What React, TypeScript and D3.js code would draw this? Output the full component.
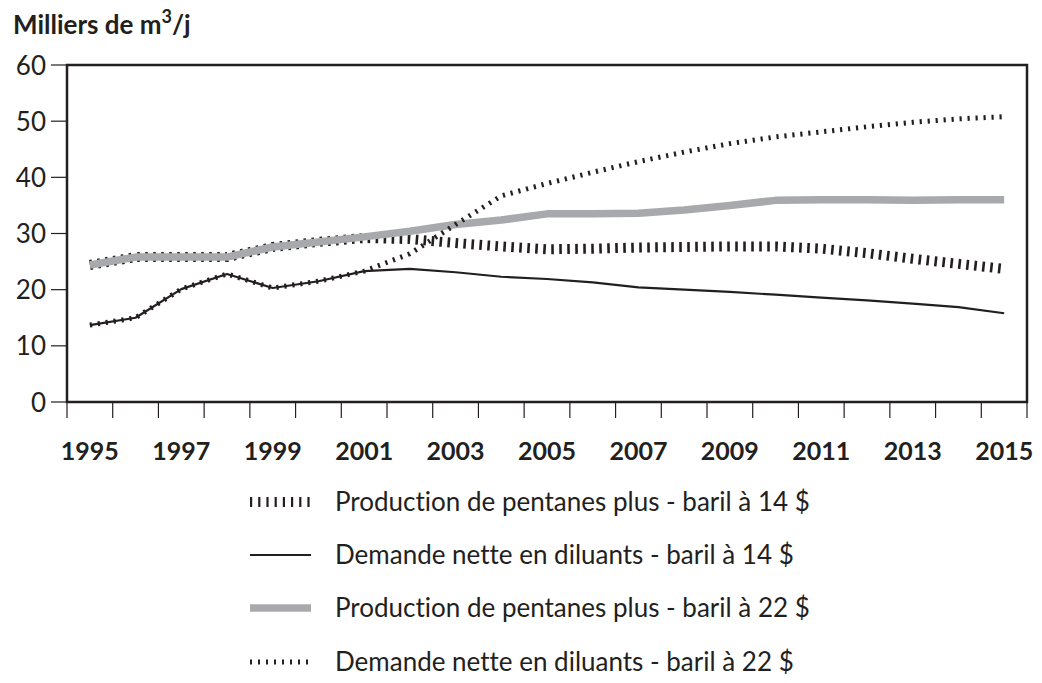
import React from "react";
import * as d3 from "d3";

const years = [1995, 1996, 1997, 1998, 1999, 2000, 2001, 2002, 2003, 2004, 2005, 2006, 2007, 2008, 2009, 2010, 2011, 2012, 2013, 2014, 2015];
const yearLabels = [1995, 1997, 1999, 2001, 2003, 2005, 2007, 2009, 2011, 2013, 2015];
const yTicks = [0, 10, 20, 30, 40, 50, 60];

const prod14 = [24.4, 25.8, 25.8, 25.8, 27.6, 28.5, 29.2, 29.0, 28.3, 27.7, 27.2, 27.3, 27.5, 27.6, 27.7, 27.7, 27.3, 26.5, 25.5, 24.6, 23.7];
const dem14 = [13.7, 15.0, 20.1, 22.8, 20.3, 21.5, 23.3, 23.7, 23.1, 22.3, 21.9, 21.3, 20.4, 20.0, 19.6, 19.1, 18.6, 18.1, 17.5, 16.9, 15.8];
const prod22 = [24.4, 25.8, 25.8, 25.8, 27.6, 28.5, 29.4, 30.4, 31.6, 32.4, 33.5, 33.5, 33.6, 34.2, 35.0, 35.9, 36.0, 36.0, 35.9, 36.0, 36.0];
const dem22 = [13.7, 15.0, 20.1, 22.8, 20.3, 21.5, 23.3, 26.4, 31.6, 36.7, 38.9, 40.9, 42.8, 44.5, 46.0, 47.2, 48.1, 49.0, 49.8, 50.4, 50.8];

const legendLabels = [
  "Production de pentanes plus - baril à 14 $",
  "Demande nette en diluants - baril à 14 $",
  "Production de pentanes plus - baril à 22 $",
  "Demande nette en diluants - baril à 22 $",
];

const INK = "#231f20";
const GREY = "#a7a9ac";
const FONT = "Lato, 'Open Sans', sans-serif";

type Style = { stroke: string; width: number; dash?: string };
const styles: Style[] = [
  { stroke: INK, width: 10, dash: "2.6 5.4" },
  { stroke: INK, width: 2.2 },
  { stroke: GREY, width: 7.5 },
  { stroke: INK, width: 5, dash: "2.2 5.8" },
];
const legendStyles: Style[] = [
  { stroke: INK, width: 10, dash: "2.2 6" },
  { stroke: INK, width: 2.2 },
  { stroke: GREY, width: 7.5 },
  { stroke: INK, width: 5, dash: "2 6" },
];

export default function App() {
  const W = 1042, H = 683;
  const left = 67, right = 1027, top = 65, bottom = 402;
  const x = d3.scaleBand<number>().domain(years).range([left, right]).padding(0);
  const cx = (yr: number) => (x(yr) as number) + x.bandwidth() / 2;
  const y = d3.scaleLinear().domain([0, 60]).range([bottom, top]);
  const line = d3.line<number>().x((_, i) => cx(years[i])).y((v) => y(v));
  const series = [prod14, dem14, prod22, dem22];
  const drawOrder = [0, 2, 1, 3];
  const boundaries = [...years.map((yr) => x(yr) as number), right];
  const legendY = [502, 555, 608, 662];
  const textStyle = { fontVariantLigatures: "none" as const };

  return (
    <svg width={W} height={H} style={{ position: "absolute", left: 0, top: 0, background: "#fff" }}>
      <rect x={0} y={0} width={W} height={H} fill="#fff" />
      <text x={13} y={34} fontFamily={FONT} fontWeight={700} fontSize={26} fill={INK} style={textStyle}>
        Milliers de m
        <tspan fontSize={18} dy={-11}>3</tspan>
        <tspan dy={11}>/j</tspan>
      </text>

      {/* y ticks */}
      {yTicks.map((t) => (
        <g key={t}>
          <line x1={51} x2={left} y1={y(t)} y2={y(t)} stroke={INK} strokeWidth={1.2} />
          <text x={46} y={y(t) + 9.5} textAnchor="end" fontFamily={FONT} fontSize={26} fill={INK}>
            {t}
          </text>
        </g>
      ))}

      {/* x ticks */}
      {boundaries.map((b, i) => (
        <line key={i} x1={b} x2={b} y1={bottom} y2={418} stroke={INK} strokeWidth={1.2} />
      ))}
      {yearLabels.map((yr) => (
        <text key={yr} x={cx(yr)} y={460} textAnchor="middle" fontFamily={FONT} fontWeight={700} fontSize={25} fill={INK}>
          {yr}
        </text>
      ))}

      {/* series */}
      {drawOrder.map((k) => (
        <path
          key={k}
          d={line(series[k]) as string}
          fill="none"
          stroke={styles[k].stroke}
          strokeWidth={styles[k].width}
          strokeDasharray={styles[k].dash}
          strokeLinejoin="round"
        />
      ))}

      {/* frame */}
      <rect x={left} y={top} width={right - left} height={bottom - top} fill="none" stroke={INK} strokeWidth={2.5} />

      {/* legend */}
      {legendLabels.map((lab, i) => (
        <g key={i}>
          <line
            x1={250}
            x2={311}
            y1={legendY[i]}
            y2={legendY[i]}
            stroke={legendStyles[i].stroke}
            strokeWidth={legendStyles[i].width}
            strokeDasharray={legendStyles[i].dash}
          />
          <text x={335} y={legendY[i] + 9} fontFamily={FONT} fontSize={26} fill={INK} style={textStyle}>
            {lab}
          </text>
        </g>
      ))}
    </svg>
  );
}
